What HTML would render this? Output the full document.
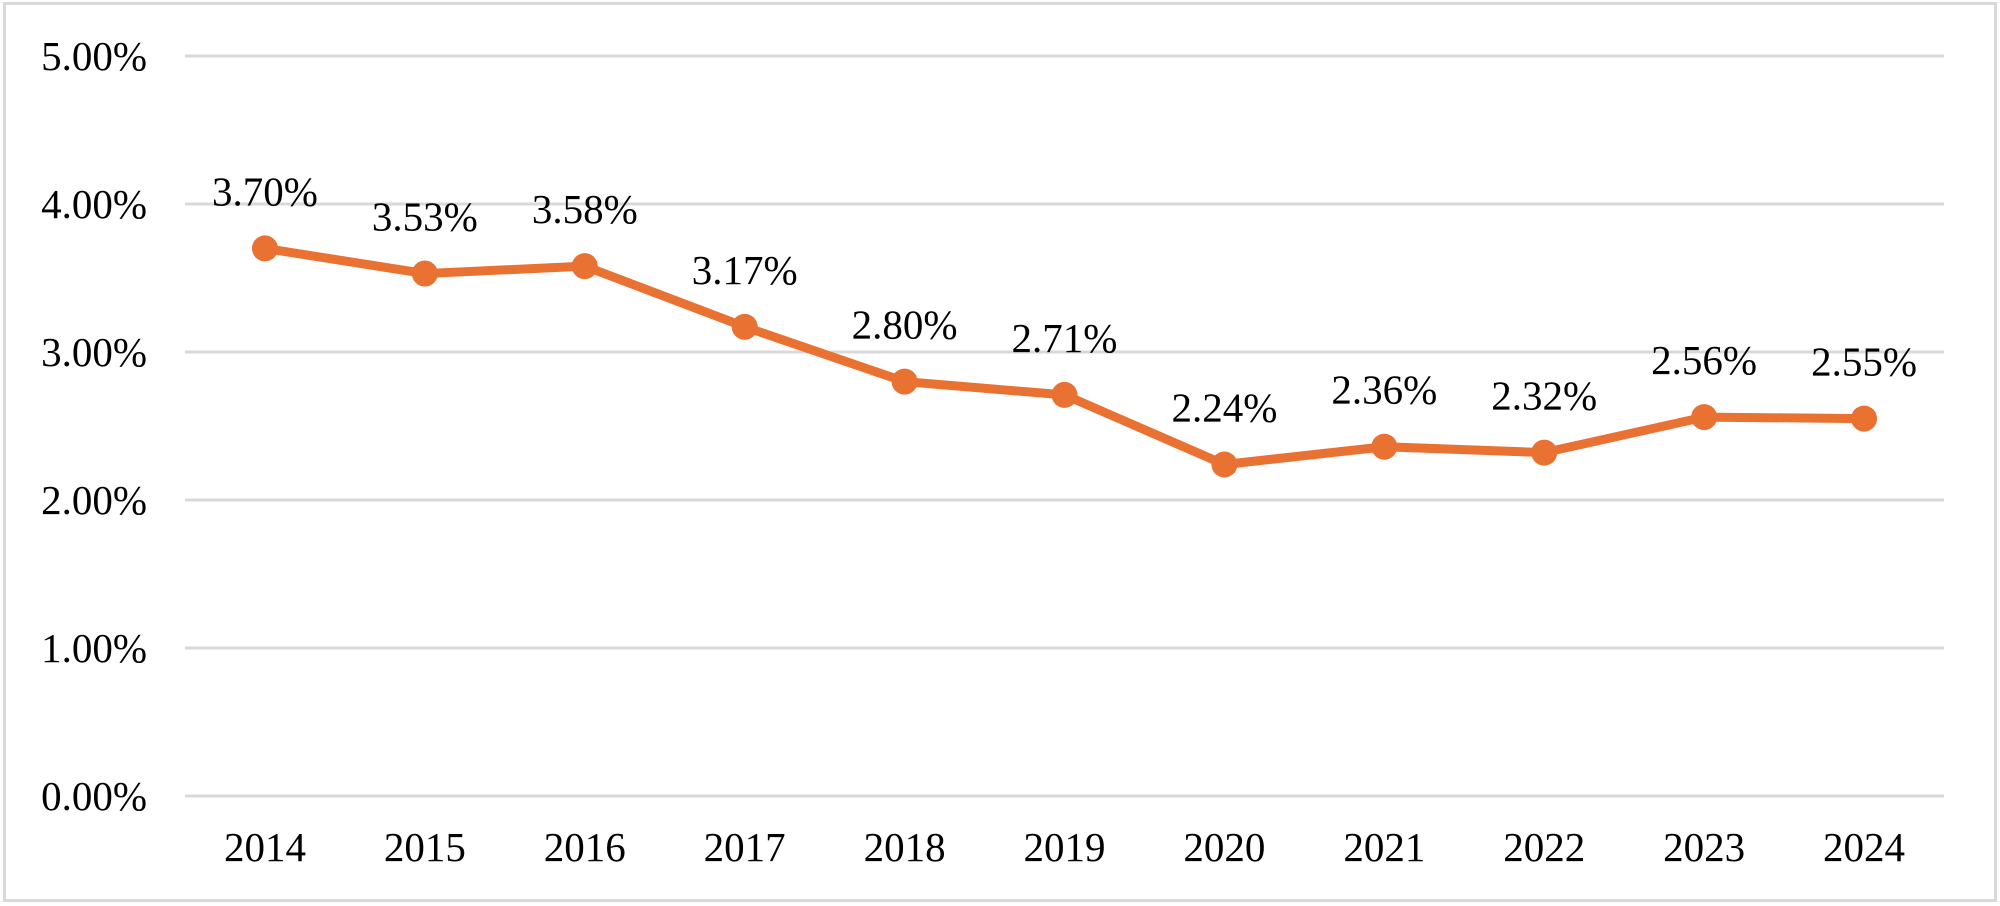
<!DOCTYPE html>
<html><head><meta charset="utf-8"><style>
html,body{margin:0;padding:0;background:#fff;}
svg{display:block;font-family:"Liberation Serif",serif;}
</style></head><body>
<svg id="chart" width="2000" height="906" viewBox="0 0 2000 906">
<rect x="4.5" y="3.5" width="1991" height="897" fill="#fff" stroke="#d9d9d9" stroke-width="3"/>
<g id="grid"></g><g id="yt"></g><g id="xt"></g><g id="series"></g><g id="labels"></g>
</svg>
<script>
const years = ["2014","2015","2016","2017","2018","2019","2020","2021","2022","2023","2024"];
const values = [3.70,3.53,3.58,3.17,2.80,2.71,2.24,2.36,2.32,2.56,2.55];
const valueLabels = ["3.70%","3.53%","3.58%","3.17%","2.80%","2.71%","2.24%","2.36%","2.32%","2.56%","2.55%"];
const yTicks = [0,1,2,3,4,5];
const yTickLabels = ["0.00%","1.00%","2.00%","3.00%","4.00%","5.00%"];
const NS="http://www.w3.org/2000/svg";
const L=185,R=1944,Y0=796,Y5=56;
const band=(R-L)/years.length;
const x=i=>L+band*(i+0.5);
const y=v=>Y0-(Y0-Y5)*v/5;
function mk(tag,attrs,parent){const e=document.createElementNS(NS,tag);for(const k in attrs)e.setAttribute(k,attrs[k]);document.getElementById(parent).appendChild(e);return e;}
yTicks.forEach((t,i)=>{
  const g=mk("line",{x1:L,x2:R,y1:y(t),y2:y(t),stroke:"#d9d9d9","stroke-width":3},"grid");
  
  
  const tx=mk("text",{x:147,y:y(t)+14,"text-anchor":"end","font-size":41,fill:"#000"},"yt");
  tx.textContent=yTickLabels[i];
  
  
});
years.forEach((yr,i)=>{
  const tx=mk("text",{x:x(i),y:861,"text-anchor":"middle","font-size":41,fill:"#000"},"xt");
  tx.textContent=yr;
  
  
});
const pl=mk("polyline",{points:values.map((v,i)=>x(i)+","+y(v)).join(" "),fill:"none",stroke:"#E97132","stroke-width":9,"stroke-linejoin":"round"},"series");


values.forEach((v,i)=>{
  const c=mk("circle",{cx:x(i),cy:y(v),r:13,fill:"#E97132"},"series");
  
  
  const t=mk("text",{x:x(i),y:y(v)-43,"text-anchor":"middle","font-size":41,fill:"#000"},"labels");
  t.textContent=valueLabels[i];
  
  
});
</script>
</body></html>
